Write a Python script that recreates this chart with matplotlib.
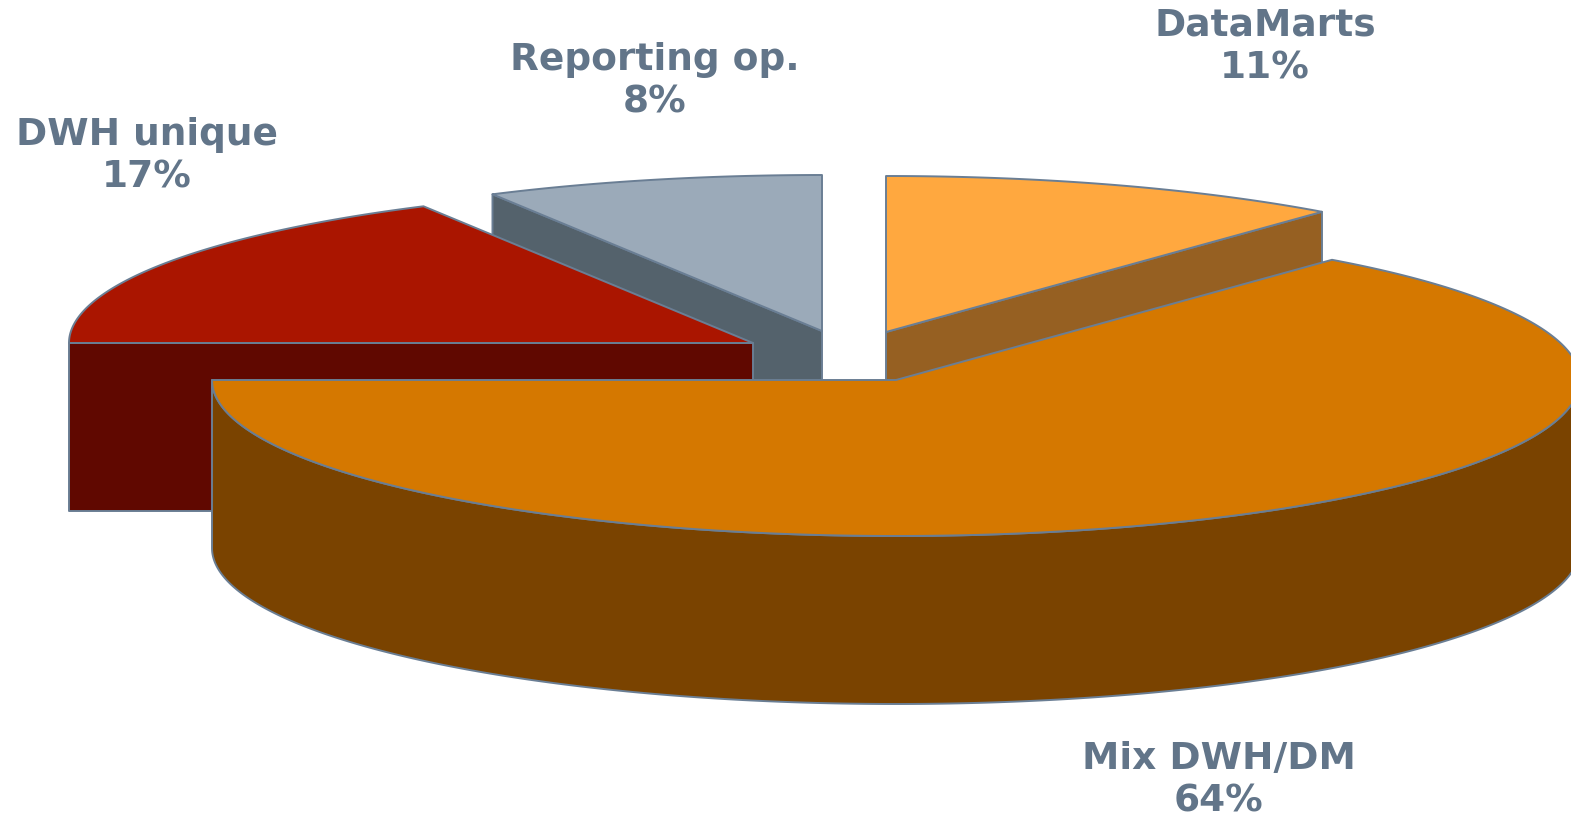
import numpy as np
import matplotlib.pyplot as plt
from matplotlib.patches import Polygon

#%% Data
labels = ["DataMarts", "Mix DWH/DM", "DWH unique", "Reporting op."]
shares = [11, 64, 17, 8]

#%% Style / layout (pixel coordinates, figure is 1571x819)
top_colors = ["#FFA83F", "#D57800", "#AA1500", "#9BAAB9"]
side_colors = ["#966022", "#7A4300", "#600800", "#54626C"]
edge_color = "#6A7E94"
text_color = "#627589"

rx, ry, depth = 684, 156, 168
apex = [(886, 332), (896, 380), (753, 343), (822, 331)]   # exploded slice centres
label_pos = [(1265, 47), (1219, 780), (147, 156), (655, 81)]


def ell(cx, cy, t):
    t = np.radians(t)
    return np.column_stack([cx + rx * np.cos(t), cy - ry * np.sin(t)])


def add_poly(ax, pts, color):
    ax.add_patch(Polygon(pts, closed=True, facecolor=color, edgecolor=edge_color,
                         lw=1.4, joinstyle="round"))


#%% Angles (start at 12 o'clock, clockwise)
total = sum(shares)
spans = [360 * s / total for s in shares]
starts = 90 - np.concatenate([[0], np.cumsum(spans)[:-1]])
ends = starts - np.array(spans)
mids = (starts + ends) / 2

fig = plt.figure(figsize=(15.71, 8.19), dpi=100)
ax = fig.add_axes([0, 0, 1, 1])
ax.set_xlim(0, 1571)
ax.set_ylim(819, 0)
ax.axis("off")

# paint back slices first
order = sorted(range(len(shares)), key=lambda i: -np.sin(np.radians(mids[i])))
for i in order:
    cx, cy = apex[i]
    t1, t2 = starts[i], ends[i]

    # radial side walls
    for t, visible in [(t1, np.cos(np.radians(t1)) < -1e-6),
                       (t2, np.cos(np.radians(t2)) > 1e-6)]:
        if visible:
            px, py = ell(cx, cy, np.array([t]))[0]
            add_poly(ax, [(cx, cy), (px, py), (px, py + depth), (cx, cy + depth)],
                     side_colors[i])

    # outer wall (front half only)
    lo, hi = max(t2, -180), min(t1, 0)
    if lo < hi:
        top = ell(cx, cy, np.linspace(hi, lo, 300))
        bot = ell(cx, cy + depth, np.linspace(lo, hi, 300))
        add_poly(ax, np.vstack([top, bot]), side_colors[i])

    # top face
    arc = ell(cx, cy, np.linspace(t1, t2, 300))
    add_poly(ax, np.vstack([[cx, cy], arc]), top_colors[i])

#%% Labels
for i, name in enumerate(labels):
    x, y = label_pos[i]
    ax.text(x, y, f"{name}\n{shares[i]}%", ha="center", va="center",
            fontsize=27, fontweight="bold", color=text_color,
            linespacing=1.22, family="DejaVu Sans")

fig.savefig("out.png", dpi=100)
